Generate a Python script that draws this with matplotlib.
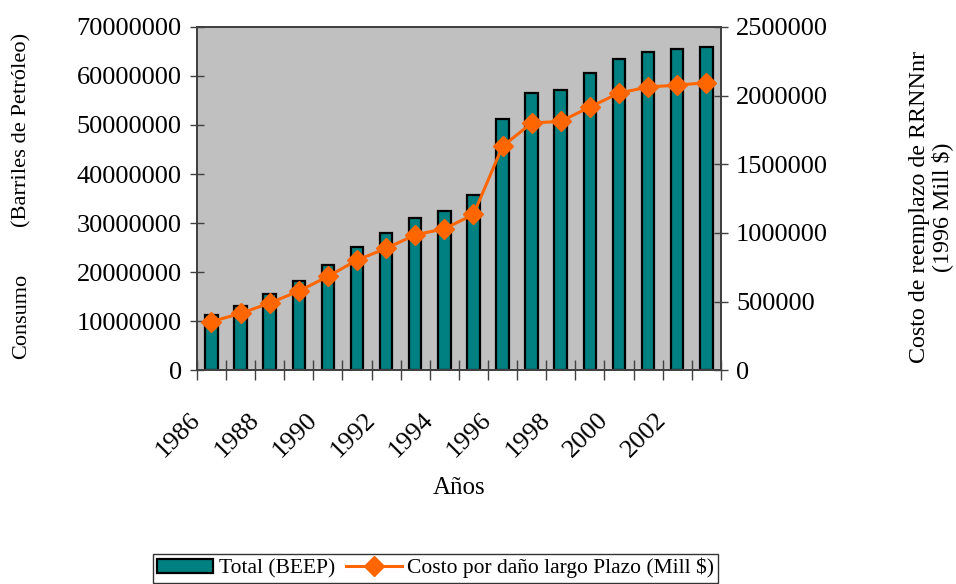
import matplotlib
matplotlib.use("Agg")
import matplotlib.pyplot as plt
import matplotlib.transforms as mtransforms
import numpy as np
from matplotlib.lines import Line2D
from matplotlib.patches import Patch

plt.rcParams['font.family'] = ['Liberation Serif', 'DejaVu Serif']

years = list(range(1986, 2004))
consumo_beep = [11250000, 13200000, 15500000, 18200000, 21400000, 25200000,
                28000000, 31000000, 32500000, 35700000, 51300000, 56600000,
                57100000, 60500000, 63400000, 64900000, 65400000, 65800000]
costo_dano = [354000, 414000, 489000, 576000, 683000, 802000, 887000, 986000,
              1030000, 1134000, 1630000, 1800000, 1812000, 1916000, 2018000,
              2062000, 2076000, 2093000]
left_ticks = [0, 10000000, 20000000, 30000000, 40000000, 50000000, 60000000, 70000000]
right_ticks = [0, 500000, 1000000, 1500000, 2000000, 2500000]

teal = '#008080'
orange = '#FF6600'
spine_col = '#404040'

fig = plt.figure(figsize=(9.56, 5.84), dpi=100)
ax = fig.add_axes([0.206, 0.366, 0.548, 0.588])
ax.set_facecolor('#C0C0C0')

x = np.arange(len(years))
ax.bar(x, consumo_beep, width=0.43, color=teal, edgecolor='black', linewidth=1.6, zorder=2)
ax.set_xlim(-0.5, len(years) - 0.5)
ax.set_ylim(0, 70000000)
ax.set_yticks(left_ticks)
ax.set_yticklabels([str(v) for v in left_ticks], fontsize=19)

# category labels every other year, boundary tick marks
ax.set_xticks(x[::2])
ax.set_xticklabels([str(y) for y in years[::2]], rotation=45, ha='right',
                   va='top', rotation_mode='anchor', fontsize=19)
ax.tick_params(axis='x', which='major', length=0, pad=14)
ax.set_xticks(np.arange(-0.5, len(years), 1.0), minor=True)
ax.tick_params(axis='x', which='minor', direction='inout', length=14, width=1, color=spine_col)
ax.tick_params(axis='y', direction='inout', length=10, width=1, color=spine_col, pad=6)

# push the rotated year labels down along their baseline
shift = mtransforms.ScaledTranslation(-22 / 100, -19 / 100, fig.dpi_scale_trans)
for lbl in ax.get_xticklabels():
    lbl.set_transform(lbl.get_transform() + shift)
ax.set_xlabel('Años', fontsize=18, labelpad=11)

ax2 = ax.twinx()
ax2.plot(x, costo_dano, color=orange, linewidth=2.2, marker='D', markersize=10,
         markeredgecolor=orange, zorder=3)
ax2.set_ylim(0, 2500000)
ax2.set_yticks(right_ticks)
ax2.set_yticklabels([str(v) for v in right_ticks], fontsize=19)
ax2.tick_params(axis='y', direction='inout', length=10, width=1, color=spine_col, pad=6)

for a in (ax, ax2):
    for s in a.spines.values():
        s.set_color(spine_col)
        s.set_linewidth(1.3)

fig.text(0.023, 0.459, 'Consumo', rotation=90, ha='center', va='center', fontsize=16)
fig.text(0.023, 0.777, '(Barriles de Petróleo)', rotation=90, ha='center', va='center', fontsize=16.2)
fig.text(0.974, 0.645, 'Costo de reemplazo de RRNNnr\n(1996 Mill $)', rotation=90,
         ha='center', va='center', multialignment='center', fontsize=17.3, linespacing=1.1)

handles = [Patch(facecolor=teal, edgecolor='black', linewidth=1.6),
           Line2D([0], [0], color=orange, linewidth=2.2, marker='D', markersize=10)]
leg = fig.legend(handles, ['Total (BEEP)', 'Costo por daño largo Plazo (Mill $)'],
                 loc='center', bbox_to_anchor=(0.4556, 0.027), ncol=2, fontsize=15.5,
                 frameon=True, fancybox=False, edgecolor='black', handlelength=2.6,
                 handletextpad=0.25, columnspacing=0.5, borderpad=0.2, handleheight=0.65,
                 borderaxespad=0)
leg.get_frame().set_linewidth(1.0)

fig.savefig('out.png', dpi=100)
